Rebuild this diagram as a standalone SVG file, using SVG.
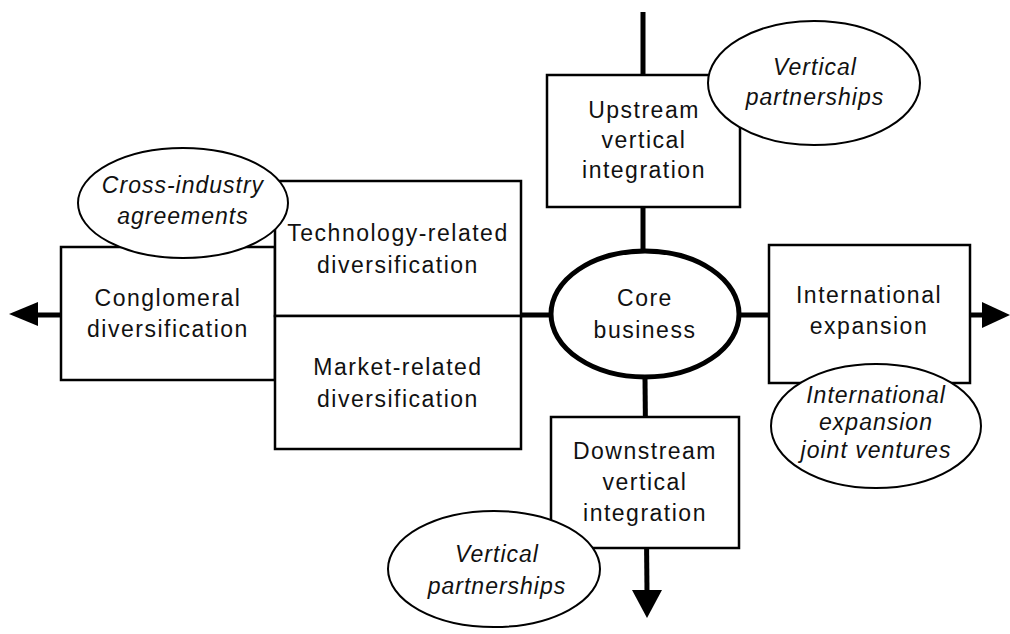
<svg xmlns="http://www.w3.org/2000/svg" width="1010" height="634" viewBox="0 0 1010 634">
  <style>
    .box { fill: #fff; stroke: #000; stroke-width: 2.5; }
    .oval { fill: #fff; stroke: #000; stroke-width: 2; }
    .core { fill: #fff; stroke: #000; stroke-width: 5; }
    .link { stroke: #000; stroke-width: 5; fill: none; }
    .head { fill: #000; }
    text { font-family: "Liberation Sans", Arial, sans-serif; font-size: 23px; letter-spacing: 1.5px; fill: #111; text-anchor: middle; }
    .it { font-style: italic; letter-spacing: 1px; }
  </style>

  <!-- connectors: axes through the core business -->
  <g id="connectors">
    <line class="link" x1="643" y1="12" x2="643" y2="250"/>
    <line class="link" x1="645" y1="378" x2="647" y2="592"/>
    <polygon class="head" points="632,590 662,590 647,618"/>
    <line class="link" x1="36" y1="315" x2="552" y2="315"/>
    <polygon class="head" points="38,302 38,326 9,314"/>
    <line class="link" x1="738" y1="315" x2="984" y2="315"/>
    <polygon class="head" points="982,302 982,328 1010,315"/>
  </g>

  <g id="conglomeral">
    <rect class="box" x="61" y="247" width="214" height="133"/>
    <text x="168" y="306">Conglomeral</text>
    <text x="168" y="337">diversification</text>
  </g>

  <g id="technology">
    <rect class="box" x="275" y="181" width="246" height="135"/>
    <text x="398" y="241">Technology-related</text>
    <text x="398" y="273">diversification</text>
  </g>

  <g id="market">
    <rect class="box" x="275" y="316" width="246" height="133"/>
    <text x="398" y="375">Market-related</text>
    <text x="398" y="407">diversification</text>
  </g>

  <g id="cross-industry">
    <ellipse class="oval" cx="183" cy="203" rx="105" ry="55"/>
    <text class="it" x="183" y="193">Cross-industry</text>
    <text class="it" x="183" y="224">agreements</text>
  </g>

  <g id="core">
    <ellipse class="core" cx="645" cy="314" rx="94" ry="63"/>
    <text x="645" y="306">Core</text>
    <text x="645" y="338">business</text>
  </g>

  <g id="upstream">
    <rect class="box" x="547" y="75" width="193" height="132"/>
    <text x="644" y="118">Upstream</text>
    <text x="644" y="148">vertical</text>
    <text x="644" y="178">integration</text>
  </g>

  <g id="vertical-up">
    <ellipse class="oval" cx="814" cy="83" rx="106" ry="62"/>
    <text class="it" x="815" y="75">Vertical</text>
    <text class="it" x="815" y="105">partnerships</text>
  </g>

  <g id="international">
    <rect class="box" x="769" y="245" width="201" height="138"/>
    <text x="869" y="303">International</text>
    <text x="869" y="334">expansion</text>
  </g>

  <g id="joint-ventures">
    <ellipse class="oval" cx="876" cy="426" rx="105" ry="62"/>
    <text class="it" x="876" y="403">International</text>
    <text class="it" x="876" y="430">expansion</text>
    <text class="it" x="876" y="458">joint ventures</text>
  </g>

  <g id="downstream">
    <rect class="box" x="551" y="417" width="188" height="131"/>
    <text x="645" y="459">Downstream</text>
    <text x="645" y="490">vertical</text>
    <text x="645" y="521">integration</text>
  </g>

  <g id="vertical-down">
    <ellipse class="oval" cx="494" cy="569" rx="106" ry="58"/>
    <text class="it" x="497" y="562">Vertical</text>
    <text class="it" x="497" y="594">partnerships</text>
  </g>
</svg>
